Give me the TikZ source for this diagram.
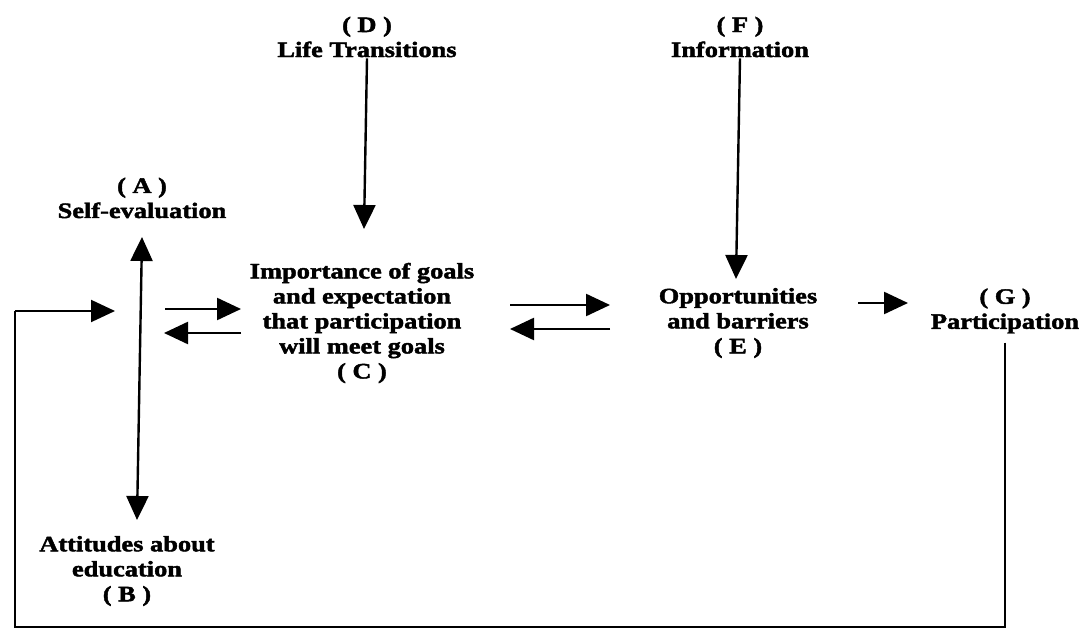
\documentclass[tikz,border=0pt]{standalone}
\usepackage{fontspec}
\setmainfont{Liberation Serif}[FakeStretch=1.2,FakeBold=2]
\usetikzlibrary{arrows.meta}
\tikzset{
  lbl/.style={align=center,inner sep=1pt,font=\bfseries\fontsize{22}{25}\selectfont},
  arr/.style={line width=2.4pt,-{Triangle[length=24pt,width=22pt]}},
  darr/.style={line width=2.4pt,{Triangle[length=24pt,width=22pt]}-{Triangle[length=24pt,width=22pt]}},
  fb/.style={line width=2pt},
}
\begin{document}
\begin{tikzpicture}[x=1pt,y=-1pt]
\useasboundingbox (0,0) rectangle (1088,636);
% nodes
\node[lbl] (D) at (367,37) {( D )\\Life Transitions};
\node[lbl] (F) at (740,37) {( F )\\Information};
\node[lbl] (A) at (142,198) {( A )\\Self-evaluation};
\node[lbl] (B) at (127,571) {Attitudes about\\education\\( B )};
\node[lbl] (C) at (362,323) {Importance of goals\\and expectation\\that participation\\will meet goals\\( C )};
\node[lbl] (E) at (738,323) {Opportunities\\and barriers\\( E )};
\node[lbl] (G) at (1005,311) {( G )\\Participation};
% named ends
\coordinate (Dend) at (364,229);
\coordinate (Fend) at (736,279);
\coordinate (ABtop) at (142,237);
\coordinate (ABbot) at (137,520);
\coordinate (ACr1) at (165,309);
\coordinate (ACr2) at (241,309);
\coordinate (ACl1) at (241,333);
\coordinate (ACl2) at (164,333);
\coordinate (CEr1) at (510,305);
\coordinate (CEr2) at (610,305);
\coordinate (CEl1) at (610,329);
\coordinate (CEl2) at (510,329);
\coordinate (EGs) at (858,303);
\coordinate (EGe) at (908,303);
\coordinate (FB1) at (1005,627);
\coordinate (FB2) at (15,627);
\coordinate (FB3) at (15,311);
\coordinate (FB4) at (115,311);
% connectors
\draw[arr] (D.south) -- (Dend);
\draw[arr] (F.south) -- (Fend);
\draw[darr] (ABtop) -- (ABbot);
\draw[arr] (ACr1) -- (ACr2);
\draw[arr] (ACl1) -- (ACl2);
\draw[arr] (CEr1) -- (CEr2);
\draw[arr] (CEl1) -- (CEl2);
\draw[arr] (EGs) -- (EGe);
\draw[fb] ([yshift=-8pt]G.south) -- (FB1) -- (FB2) -- (FB3);
\draw[arr,line width=2pt] (FB3) -- (FB4);
\end{tikzpicture}
\end{document}
